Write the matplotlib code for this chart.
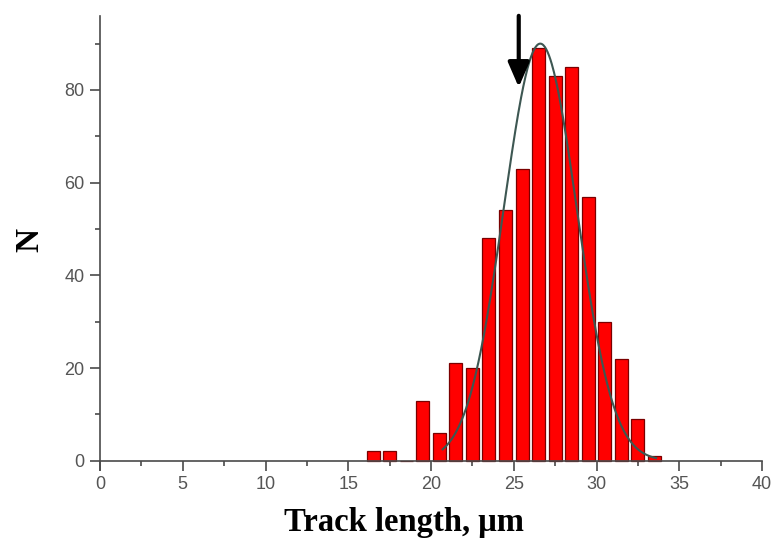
import numpy as np
import matplotlib
matplotlib.use("Agg")
import matplotlib.pyplot as plt
from matplotlib.ticker import MultipleLocator

# Track-length histogram (bin centres in µm, counts per 1 µm bin)
bin_centers = [16.5, 17.5, 18.5, 19.5, 20.5, 21.5, 22.5, 23.5, 24.5,
               25.5, 26.5, 27.5, 28.5, 29.5, 30.5, 31.5, 32.5, 33.5]
counts = [2, 2, 0, 13, 6, 21, 20, 48, 54, 63, 89, 83, 85, 57, 30, 22, 9, 1]

# Gaussian fit parameters
fit_amplitude = 90.0
fit_center = 26.6
fit_sigma = 2.2
fit_range = (20.7, 33.6)

# Marked value (arrow)
arrow_x = 25.3
arrow_tip_y = 80.6
arrow_top_y = 96.0

x_ticks = [0, 5, 10, 15, 20, 25, 30, 35, 40]
y_ticks = [0, 20, 40, 60, 80]

fig = plt.figure(figsize=(7.73, 5.42), dpi=100)
ax = fig.add_axes([0.1294, 0.1328, 0.8564, 0.838])

axis_color = "#4a4a4a"
ax.bar(bin_centers, counts, width=0.78, color="#ff0000",
       edgecolor="#7a0000", linewidth=0.9, zorder=2)

xs = np.linspace(fit_range[0], fit_range[1], 300)
ys = fit_amplitude * np.exp(-(xs - fit_center) ** 2 / (2 * fit_sigma ** 2))
ax.plot(xs, ys, color="#3d5752", lw=1.5, zorder=3)

ax.annotate("", xy=(arrow_x, arrow_tip_y), xytext=(arrow_x, arrow_top_y),
            arrowprops=dict(arrowstyle="-|>,head_length=1.5,head_width=0.65",
                            color="black", lw=3, shrinkA=0, shrinkB=0),
            zorder=5, annotation_clip=False)

ax.set_xlim(0, 40)
ax.set_ylim(-2, 96)

for side in ("top", "right"):
    ax.spines[side].set_visible(False)
ax.spines["bottom"].set_position(("data", 0))
for side in ("left", "bottom"):
    ax.spines[side].set_color(axis_color)
    ax.spines[side].set_linewidth(1.2)

ax.set_xticks(x_ticks)
ax.set_yticks(y_ticks)
ax.xaxis.set_minor_locator(MultipleLocator(2.5))
ax.yaxis.set_minor_locator(MultipleLocator(10))
ax.tick_params(which="major", direction="out", length=7, width=1.2,
               color=axis_color, labelcolor="#555555", labelsize=13,
               pad=4)
ax.tick_params(which="minor", direction="out", length=3.5, width=1.2,
               color=axis_color)
for lab in ax.get_xticklabels() + ax.get_yticklabels():
    lab.set_family("Liberation Sans")

fig.text(404 / 773, 1 - 522 / 542, "Track length, μm", ha="center",
         va="center", fontsize=23.5, fontweight="bold",
         family="Liberation Serif")
fig.text(30 / 773, 1 - 240 / 542, "N", ha="center", va="center",
         rotation=90, fontsize=24, fontweight="bold",
         family="Liberation Serif")

fig.savefig("out.png", dpi=100)
